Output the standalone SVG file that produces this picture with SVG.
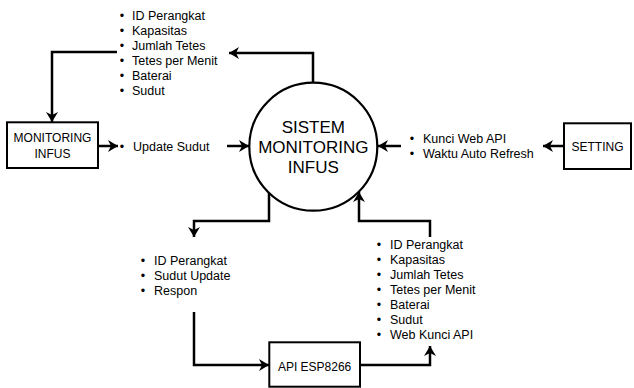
<svg xmlns="http://www.w3.org/2000/svg" width="634" height="388" viewBox="0 0 634 388">
  <style>
    text { font-family: "Liberation Sans", Arial, sans-serif; fill: #000; }
    .lbl { font-size: 12.5px; }
    .box { fill: #fff; stroke: #000; stroke-width: 2; }
    .boxtxt { font-size: 12px; text-anchor: middle; }
    .big { font-size: 17px; text-anchor: middle; }
    .conn { fill: none; stroke: #000; stroke-width: 2.5; marker-end: url(#arr); }
  </style>
  <defs>
    <marker id="arr" markerUnits="userSpaceOnUse" markerWidth="11" markerHeight="12" refX="10" refY="6" orient="auto" viewBox="0 0 11 12">
      <path d="M0,0 L10,6 L0,12 L3,6 Z" fill="#000"/>
    </marker>
  </defs>

  <rect width="634" height="388" fill="#fff"/>

  <!-- connectors -->
  <g id="connectors">
    <path class="conn" d="M313 83 V53 H229"/>
    <path class="conn" d="M117 52 H52 V122"/>
    <path class="conn" d="M98 146 H118"/>
    <path class="conn" d="M227 146 H249"/>
    <path class="conn" d="M564 146 H543"/>
    <path class="conn" d="M401 146 H378"/>
    <path class="conn" d="M269 193 V221 H194 V237"/>
    <path class="conn" d="M194 312 V365 H269"/>
    <path class="conn" d="M360 365 H430 V346"/>
    <path class="conn" d="M430 237 V221 H359 V192"/>
  </g>

  <!-- central process -->
  <g id="sistem-monitoring-infus">
    <circle cx="313.3" cy="146.7" r="64" fill="#fff" stroke="#000" stroke-width="2.2"/>
    <text class="big" x="313.3" y="132.5">SISTEM</text>
    <text class="big" x="313.3" y="152.8">MONITORING</text>
    <text class="big" x="313.3" y="173">INFUS</text>
  </g>

  <!-- external entities -->
  <g id="monitoring-infus">
    <rect class="box" x="7" y="122.3" width="91" height="45.7"/>
    <text class="boxtxt" x="52.5" y="141.5">MONITORING</text>
    <text class="boxtxt" x="52.5" y="157.5">INFUS</text>
  </g>

  <g id="setting">
    <rect class="box" x="564" y="123.3" width="67" height="45.7"/>
    <text class="boxtxt" x="597.5" y="150.8">SETTING</text>
  </g>

  <g id="api-esp8266">
    <rect class="box" x="269.3" y="342.3" width="90.7" height="44.4"/>
    <text class="boxtxt" x="314.6" y="371">API ESP8266</text>
  </g>

  <!-- data flow labels -->
  <g id="data-to-monitoring" class="lbl">
    <text x="119.8" y="20">•</text><text x="132" y="20">ID Perangkat</text>
    <text x="119.8" y="35">•</text><text x="132" y="35">Kapasitas</text>
    <text x="119.8" y="50">•</text><text x="132" y="50">Jumlah Tetes</text>
    <text x="119.8" y="65">•</text><text x="132" y="65">Tetes per Menit</text>
    <text x="119.8" y="80">•</text><text x="132" y="80">Baterai</text>
    <text x="119.8" y="95">•</text><text x="132" y="95">Sudut</text>
  </g>

  <g id="data-update-sudut" class="lbl">
    <text x="119.8" y="150.5">•</text><text x="133" y="150.5">Update Sudut</text>
  </g>

  <g id="data-setting" class="lbl">
    <text x="409.8" y="142.5">•</text><text x="423" y="142.5">Kunci Web API</text>
    <text x="409.8" y="157.5">•</text><text x="423" y="157.5">Waktu Auto Refresh</text>
  </g>

  <g id="data-to-api" class="lbl">
    <text x="140.8" y="264.5">•</text><text x="154" y="264.5">ID Perangkat</text>
    <text x="140.8" y="279.5">•</text><text x="154" y="279.5">Sudut Update</text>
    <text x="140.8" y="294.5">•</text><text x="154" y="294.5">Respon</text>
  </g>

  <g id="data-from-api" class="lbl">
    <text x="376.8" y="248.5">•</text><text x="390" y="248.5">ID Perangkat</text>
    <text x="376.8" y="263.5">•</text><text x="390" y="263.5">Kapasitas</text>
    <text x="376.8" y="278.5">•</text><text x="390" y="278.5">Jumlah Tetes</text>
    <text x="376.8" y="293.5">•</text><text x="390" y="293.5">Tetes per Menit</text>
    <text x="376.8" y="308.5">•</text><text x="390" y="308.5">Baterai</text>
    <text x="376.8" y="323.5">•</text><text x="390" y="323.5">Sudut</text>
    <text x="376.8" y="338.5">•</text><text x="390" y="338.5">Web Kunci API</text>
  </g>
</svg>
